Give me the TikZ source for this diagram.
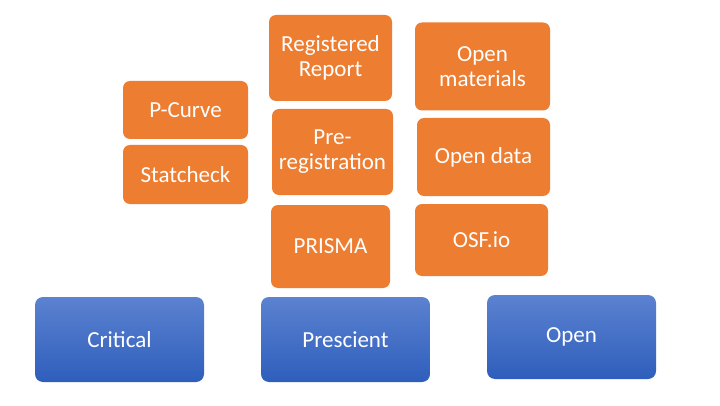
\documentclass[tikz,border=0pt]{standalone}
\usepackage{fontspec}
\setmainfont{Carlito}
\definecolor{boxorange}{HTML}{ED7D31}
\definecolor{bluetop}{RGB}{92,130,208}
\definecolor{bluebot}{RGB}{46,94,188}
\tikzset{
  tool/.style={fill=boxorange,draw=none,rounded corners=7pt,
    text=white,align=center,inner sep=2pt,font=\fontsize{23}{25}\selectfont},
  pillar/.style={top color=bluetop,bottom color=bluebot,draw=none,rounded corners=8pt,
    text=white,align=center,minimum width=169pt,font=\fontsize{23}{25}\selectfont}
}
\begin{document}
\begin{tikzpicture}[x=1pt,y=1pt]
    \useasboundingbox[fill=white] (0,0) rectangle (720,405);
    % the three pillars
    \node[pillar,minimum height=85pt] (critical) at (119.5,65.5) {Critical};
    \node[pillar,minimum height=85pt] (prescient) at (345.5,65.5) {Prescient};
    \node[pillar,minimum height=84pt] (open) at (571.5,68) {Open};
    % tools above critical
    \node[tool,minimum width=125pt,minimum height=58pt] (pcurve) at (185.5,295) {P-Curve};
    \node[tool,minimum width=125pt,minimum height=59pt] (statcheck) at (185.5,230.5) {Statcheck};
    % tools above prescient
    \node[tool,minimum width=123pt,minimum height=86pt] (regreport) at (330.5,347) {Registered\\Report};
    \node[tool,minimum width=121pt,minimum height=86pt] (prereg) at (332.5,253) {Pre-\\registration};
    \node[tool,minimum width=119pt,minimum height=83pt] (prisma) at (330.5,158.5) {PRISMA};
    % tools above open
    \node[tool,minimum width=135pt,minimum height=88pt] (openmat) at (482.5,338.5) {Open\\materials};
    \node[tool,minimum width=133pt,minimum height=78pt] (opendata) at (483.5,248) {Open data};
    \node[tool,minimum width=133pt,minimum height=72pt] (osf) at (481.5,165) {OSF.io};
\end{tikzpicture}
\end{document}
